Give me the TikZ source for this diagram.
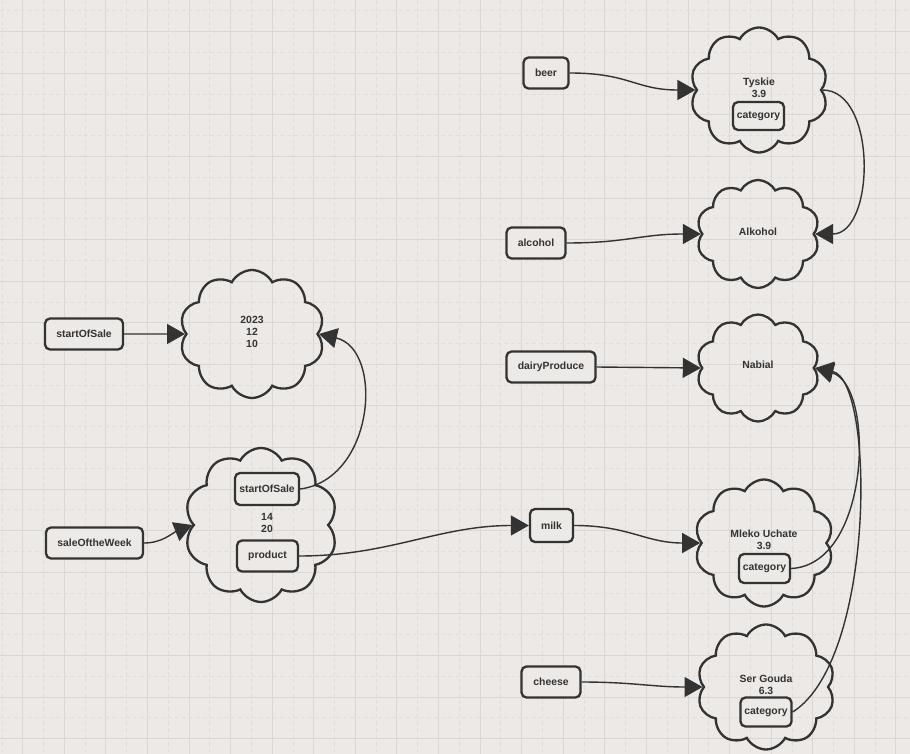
\documentclass[tikz,border=0pt]{standalone}
\usepackage{fontspec}
\setmainfont{Liberation Sans}
\usetikzlibrary{shapes.symbols,arrows.meta}
\definecolor{bg}{HTML}{ECE9E6}
\definecolor{gridA}{HTML}{DAD7D4}
\definecolor{gridB}{HTML}{E0DDDA}
\definecolor{ink}{HTML}{333333}
\begin{document}
\begin{tikzpicture}[x=1pt,y=-1pt,
  txt/.style={font=\fontsize{10.4}{12}\selectfont\bfseries, text=ink, align=center, inner sep=0pt},
  lbl/.style={draw=ink, line width=2.3pt, rounded corners=5pt, fill=bg, font=\fontsize{10.4}{12}\selectfont\bfseries, text=ink, inner sep=0pt, minimum height=31pt},
  cld/.style={cloud, cloud puffs=10, cloud puff arc=125, cloud ignores aspect, draw=ink, line width=2.3pt, inner sep=0pt},
  conn/.style={draw=ink, line width=1.4pt, -{Triangle[length=18pt,width=20pt]}}]
\useasboundingbox (0,0) rectangle (910,754);
\fill[bg] (0,0) rectangle (910,754);
% grid
\foreach \i in {0,...,21}{
  \draw[gridB, line width=0.8pt, dash pattern=on 4pt off 3pt] ({1.9+41.58*\i},0) -- ({1.9+41.58*\i},754);
  \draw[gridA, line width=0.9pt] ({22.69+41.58*\i},0) -- ({22.69+41.58*\i},754);
}
\foreach \i in {0,...,17}{
  \draw[gridB, line width=0.8pt, dash pattern=on 4pt off 3pt] (0,{10.9+41.58*\i}) -- (910,{10.9+41.58*\i});
  \draw[gridA, line width=0.9pt] (0,{31.69+41.58*\i}) -- (910,{31.69+41.58*\i});
}
% clouds
\node[cld, minimum width=138pt, minimum height=125pt] (tys) at (759,90) {};
\node[cld, minimum width=123pt, minimum height=108pt] (alk) at (758,234) {};
\node[cld, minimum width=145pt, minimum height=128pt] (date) at (252,334) {};
\node[cld, minimum width=153pt, minimum height=154pt] (sale) at (261,525) {};
\node[cld, minimum width=123pt, minimum height=107pt] (nab) at (758,368) {};
\node[cld, minimum width=139pt, minimum height=127pt] (mle) at (764,543) {};
\node[cld, minimum width=138pt, minimum height=125pt] (gou) at (766,687) {};
% cloud texts
\node[txt] (tystxt) at (759,88) {Tyskie\\3.9};
\node[txt] (alktxt) at (758,232) {Alkohol};
\node[txt] (datetxt) at (252,332) {2023\\12\\10};
\node[txt] (saletxt) at (267,523) {14\\20};
\node[txt] (nabtxt) at (758,365) {Nabial};
\node[txt] (mletxt) at (764,540) {Mleko Uchate\\3.9};
\node[txt] (goutxt) at (766,685) {Ser Gouda\\6.3};
% inner boxes
\node[lbl, minimum width=51pt, minimum height=28pt] (tyscat) at (758.5,116) {category};
\node[lbl, minimum width=51pt, minimum height=29pt] (mlecat) at (764.5,568.5) {category};
\node[lbl, minimum width=51pt, minimum height=29pt] (goucat) at (766,712) {category};
\node[lbl, minimum width=64pt, minimum height=32pt] (sos) at (267,489) {startOfSale};
\node[lbl, minimum width=61pt, minimum height=31pt] (prod) at (267.5,556) {product};
% outer labels
\node[lbl, minimum width=45pt] (beer) at (546,73) {beer};
\node[lbl, minimum width=59pt] (alc) at (536,243) {alcohol};
\node[lbl, minimum width=78pt] (sosl) at (84,334) {startOfSale};
\node[lbl, minimum width=97pt] (sotw) at (94.5,543) {saleOftheWeek};
\node[lbl, minimum width=89pt] (dairy) at (551,367) {dairyProduce};
\node[lbl, minimum width=43pt, minimum height=33pt] (milk) at (551.5,525.5) {milk};
\node[lbl, minimum width=59pt] (chee) at (551,682) {cheese};
% connectors
\draw[conn] (beer.east) .. controls +(60,0) and +(-60,0) .. (tys.west);
\draw[conn] (alc.east) .. controls +(60,0) and +(-60,0) .. (alk.west);
\draw[conn] (tys.east) .. controls +(55,0) and +(60,0) .. (alk.east);
\draw[conn] (sosl.east) -- (date.west);
\draw[conn] (sotw.east) .. controls +(18,0) and +(-20,8) .. (sale.west);
\draw[conn] (sos.east) .. controls +(75,-10) and +(65,15) .. (date.east);
\draw[conn] (prod.east) .. controls +(90,0) and +(-90,0) .. (milk.west);
\draw[conn] (milk.east) .. controls +(55,0) and +(-55,0) .. (mle.west);
\draw[conn] (dairy.east) -- (nab.west);
\draw[conn] (chee.east) .. controls +(50,0) and +(-50,0) .. (gou.west);
\draw[conn] (mlecat.east) .. controls +(80,-4) and +(60,17) .. (nab.east);
\draw[conn] (goucat.east) .. controls +(83,-52) and +(60,12) .. (nab.east);
\end{tikzpicture}
\end{document}
